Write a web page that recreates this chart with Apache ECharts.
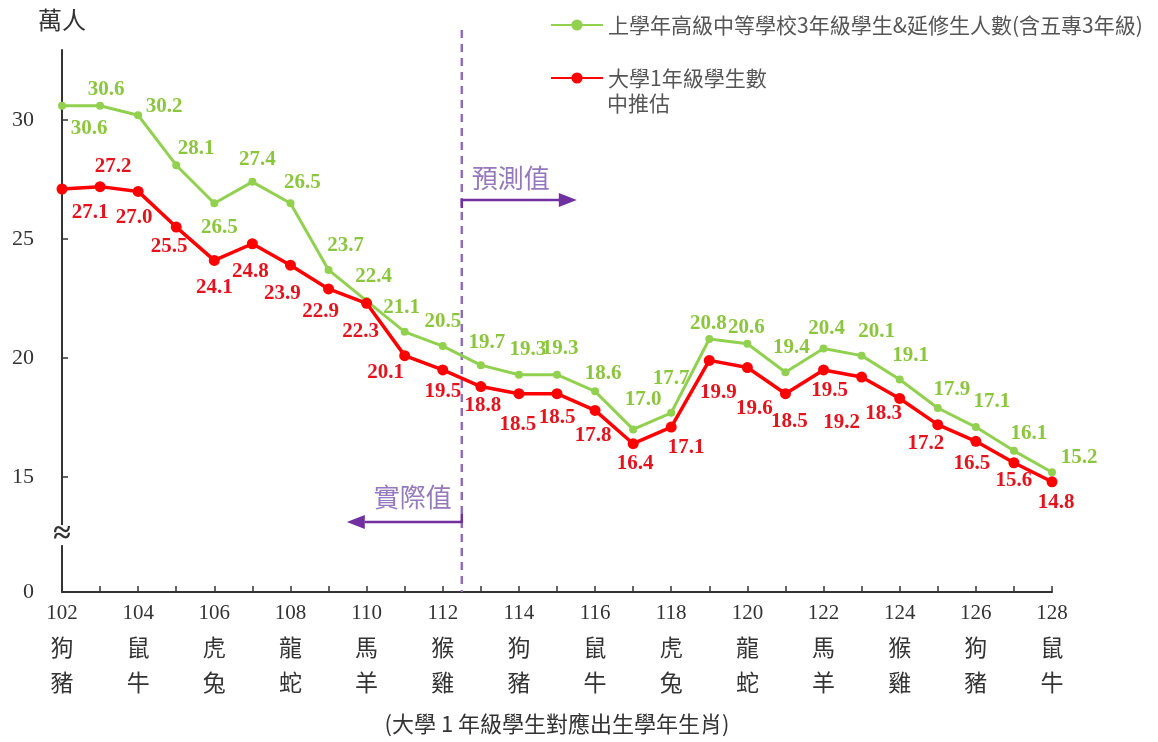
<!DOCTYPE html>
<html>
<head>
<meta charset="utf-8">
<script src="https://cdn.jsdelivr.net/npm/echarts@6/dist/echarts.min.js"></script>
<style>
html,body{margin:0;padding:0;background:#fff;}
#c{width:1158px;height:742px;}
</style>
</head>
<body>
<div id="c"></div>
<script>
// ---------------- data ----------------
const years = [102,103,104,105,106,107,108,109,110,111,112,113,114,115,116,117,118,119,120,121,122,123,124,125,126,127,128];
const seniorHigh = [30.6,30.6,30.2,28.1,26.5,27.4,26.5,23.7,22.4,21.1,20.5,19.7,19.3,19.3,18.6,17.0,17.7,20.8,20.6,19.4,20.4,20.1,19.1,17.9,17.1,16.1,15.2];
const freshmen   = [27.1,27.2,27.0,25.5,24.1,24.8,23.9,22.9,22.3,20.1,19.5,18.8,18.5,18.5,17.8,16.4,17.1,19.9,19.6,18.5,19.5,19.2,18.3,17.2,16.5,15.6,14.8];
const labelYears = [102,104,106,108,110,112,114,116,118,120,122,124,126,128];
const zodiacA = ['狗','鼠','虎','龍','馬','猴','狗','鼠','虎','龍','馬','猴','狗','鼠'];
const zodiacB = ['豬','牛','兔','蛇','羊','雞','豬','牛','兔','蛇','羊','雞','豬','牛'];
const yTicks = [15,20,25,30];
const yBreakLabel = '0';
const forecastStart = 112.5;
const seniorName = '上學年高級中等學校3年級學生&延修生人數(含五專3年級)';
const freshName = '大學1年級學生數';
const freshNameLine2 = '中推估';

// ---------------- label nudges (style) ----------------
const greenOff = [[27,23],[6,-16],[26,-9],[20,-17],[5,24],[5,-22],[12,-21],[17,-24],[7,-24],[-3,-24],[0,-25],[6,-23],[9,-25],[3,-26],[8,-18],[10,-30],[0,-34],[-1,-15],[-1,-16],[6,-25],[3,-20],[15,-24],[11,-24],[14,-18],[16,-25],[15,-17],[27,-15]];
const redOff = [[28,24],[13,-20],[-4,26],[-7,19],[0,27],[-2,28],[-8,28],[-8,23],[-6,28],[-19,17],[0,22],[2,19],[-1,31],[0,24],[-2,25],[2,20],[15,21],[9,32],[7,41],[4,28],[6,21],[-20,46],[-16,15],[-12,19],[-4,22],[0,18],[4,21]];

const Y_MIN = 10.17, Y_MAX = 32.94;
const SERIF = '"Liberation Serif","DejaVu Serif",serif';
const CJK = '"Noto Sans CJK TC","Noto Sans",sans-serif';

const chart = echarts.init(document.getElementById('c'), null, {renderer:'canvas'});

function mkData(vals, offs){
  return years.map((y,i)=>({value:[y, vals[i]], label:{offset: offs[i]}}));
}

const option = {
  backgroundColor:'#fff',
  animation:false,
  grid:{left:62, right:106, top:50, bottom:150, containLabel:false},
  legend:[
    {data:[seniorName], left:550, top:13, padding:0, itemWidth:52, itemHeight:14,
     textStyle:{fontSize:21, color:'#555', fontFamily:CJK, lineHeight:24}},
    {data:[freshName], left:550, top:66, padding:0, itemWidth:52, itemHeight:14,
     textStyle:{fontSize:21, color:'#555', fontFamily:CJK, lineHeight:24}}
  ],
  xAxis:{
    type:'value', min:102, max:128, interval:1,
    name:'(大學 1 年級學生對應出生學年生肖)', nameLocation:'middle', nameGap:132,
    nameTextStyle:{fontSize:22, color:'#333', fontFamily:CJK, verticalAlign:'middle'},
    axisLine:{show:true, lineStyle:{color:'#333', width:2}},
    axisTick:{show:true, inside:true, length:6, customValues:years, lineStyle:{color:'#333', width:1.5}},
    splitLine:{show:false},
    axisLabel:{
      customValues:labelYears, margin:4,
      formatter:function(v){
        const i = labelYears.indexOf(Math.round(v));
        if(i<0) return '';
        return '{n|'+labelYears[i]+'}\n{z|'+zodiacA[i]+'}\n{z|'+zodiacB[i]+'}';
      },
      rich:{
        n:{fontFamily:SERIF, fontSize:21, color:'#333', lineHeight:34},
        z:{fontFamily:CJK, fontSize:23, color:'#333', lineHeight:35}
      }
    }
  },
  yAxis:{
    type:'value', min:Y_MIN, max:Y_MAX,
    name:'萬人', nameLocation:'end', nameGap:30,
    nameTextStyle:{fontSize:24, color:'#333', fontFamily:CJK, align:'center', verticalAlign:'middle'},
    axisLine:{show:true, lineStyle:{color:'#333', width:2}},
    axisTick:{show:true, inside:true, length:6, customValues:yTicks, lineStyle:{color:'#333', width:1.5}},
    splitLine:{show:false},
    axisLabel:{
      customValues:[Y_MIN].concat(yTicks), margin:28,
      fontFamily:SERIF, fontSize:22, color:'#333',
      formatter:function(v){ return v < 12 ? yBreakLabel : String(Math.round(v)); }
    }
  },
  series:[
    {
      name:seniorName, type:'line', symbol:'circle', symbolSize:8,
      lineStyle:{color:'#92d050', width:3}, itemStyle:{color:'#92d050'},
      label:{show:true, position:'inside', fontFamily:SERIF, fontWeight:'bold', fontSize:21, color:'#8cc63f',
             formatter:function(p){return p.value[1].toFixed(1);}},
      data:mkData(seniorHigh, greenOff), z:2
    },
    {
      name:freshName, type:'line', symbol:'circle', symbolSize:11,
      lineStyle:{color:'#ff0000', width:3.5}, itemStyle:{color:'#ff0000'},
      label:{show:true, position:'inside', fontFamily:SERIF, fontWeight:'bold', fontSize:21, color:'#e3141e',
             formatter:function(p){return p.value[1].toFixed(1);}},
      data:mkData(freshmen, redOff), z:3
    }
  ]
};
chart.setOption(option);

const xDiv = chart.convertToPixel({xAxisIndex:0}, forecastStart);
const yBottom = chart.convertToPixel({yAxisIndex:0}, Y_MIN);
const yBreak = chart.convertToPixel({yAxisIndex:0}, 12.56);
const arrowColor = '#7030a0';
const noteColor = '#9479bd';

chart.setOption({
  graphic:[
    {type:'line', z:1, shape:{x1:xDiv, y1:30, x2:xDiv, y2:yBottom},
     style:{stroke:'#8e6cc0', lineWidth:2.5, lineDash:[8,6]}},
    {type:'polyline', z:5, shape:{points:[[xDiv,208],[xDiv,200],[xDiv+99,200]]},
     style:{stroke:arrowColor, lineWidth:2.5, fill:null}},
    {type:'polygon', z:5, shape:{points:[[xDiv+97,193],[xDiv+115,200],[xDiv+97,207]]},
     style:{fill:arrowColor}},
    {type:'text', z:5, x:xDiv+10, y:178,
     style:{text:'預測值', font:'26px '+CJK, fill:noteColor, verticalAlign:'middle', align:'left'}},
    {type:'polyline', z:5, shape:{points:[[xDiv,514],[xDiv,522],[xDiv-97,522]]},
     style:{stroke:arrowColor, lineWidth:2.5, fill:null}},
    {type:'polygon', z:5, shape:{points:[[xDiv-97,515],[xDiv-115,522],[xDiv-97,529]]},
     style:{fill:arrowColor}},
    {type:'text', z:5, x:xDiv-10, y:497,
     style:{text:'實際值', font:'26px '+CJK, fill:noteColor, verticalAlign:'middle', align:'right'}},
    {type:'rect', z:9, shape:{x:56, y:yBreak-10, width:12, height:20}, style:{fill:'#fff'}},
    {type:'text', z:10, x:62, y:yBreak,
     style:{text:'≈', font:'bold 32px '+SERIF, fill:'#333', align:'center', verticalAlign:'middle'}},
    {type:'text', z:5, x:607, y:103,
     style:{text:freshNameLine2, font:'21px '+CJK, fill:'#555', align:'left', verticalAlign:'middle'}}
  ]
});
</script>
</body>
</html>
